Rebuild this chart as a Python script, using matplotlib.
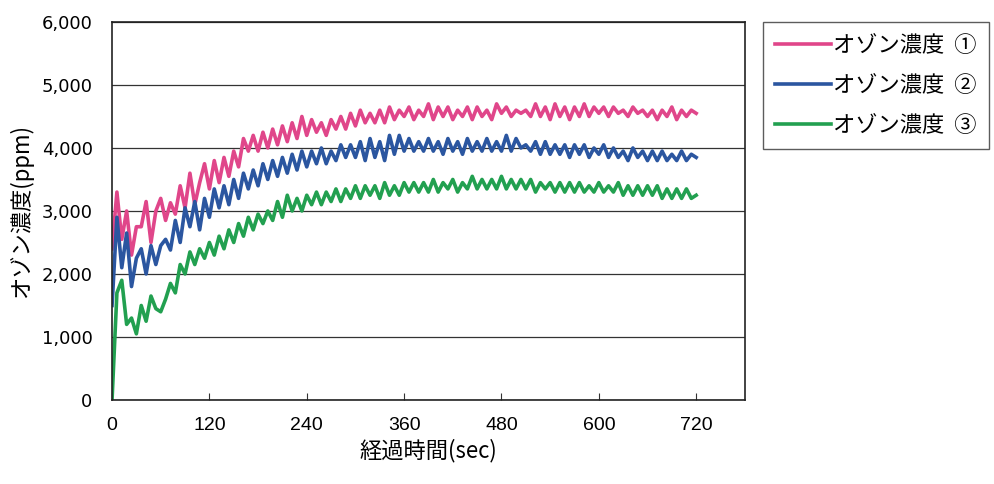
"""オゾン濃度の経時変化 (matplotlib)."""
import numpy as np
import matplotlib
matplotlib.use("Agg")
import matplotlib.pyplot as plt
from matplotlib.font_manager import FontProperties

JP = ["Noto Sans CJK JP", "DejaVu Sans"]
NUM = ["Liberation Sans Narrow", "Liberation Sans", "DejaVu Sans"]
PINK, BLUE, GREEN = "#e0468a", "#2b56a0", "#22a050"

# 経過時間 (sec), 6 秒毎
t = np.arange(0, 721, 6)

ozone_1 = [
    2400, 3300, 2550, 3000, 2300, 2750, 2750, 3150, 2500, 3000,   # 0-54
    3200, 2850, 3130, 2950, 3400, 3050, 3600, 3100, 3450, 3750,   # 60-114
    3350, 3800, 3450, 3850, 3550, 3950, 3700, 4150, 3950, 4200,   # 120-174
    3950, 4250, 4000, 4300, 4050, 4350, 4100, 4400, 4150, 4500,   # 180-234
    4200, 4450, 4250, 4400, 4200, 4450, 4300, 4500, 4300, 4550,   # 240-294
    4350, 4600, 4400, 4550, 4400, 4600, 4400, 4650, 4450, 4600,   # 300-354
    4500, 4650, 4450, 4600, 4500, 4700, 4450, 4650, 4500, 4650,   # 360-414
    4450, 4600, 4500, 4650, 4450, 4650, 4500, 4600, 4450, 4700,   # 420-474
    4550, 4650, 4500, 4600, 4550, 4600, 4500, 4700, 4500, 4650,   # 480-534
    4450, 4700, 4500, 4650, 4450, 4650, 4500, 4700, 4500, 4650,   # 540-594
    4550, 4650, 4500, 4650, 4550, 4600, 4500, 4650, 4550, 4600,   # 600-654
    4500, 4600, 4450, 4600, 4500, 4650, 4450, 4600, 4500, 4600,   # 660-714
    4550,                                                         # 720
]
ozone_2 = [
    1500, 2900, 2100, 2650, 1800, 2250, 2400, 2000, 2450, 2150,
    2450, 2550, 2380, 2850, 2500, 3050, 2750, 3150, 2700, 3200,
    2900, 3350, 3050, 3400, 3100, 3500, 3200, 3600, 3350, 3650,
    3400, 3750, 3500, 3800, 3550, 3850, 3600, 3900, 3650, 3950,
    3700, 3950, 3750, 4000, 3750, 3950, 3800, 4050, 3850, 4050,
    3850, 4100, 3800, 4150, 3850, 4100, 3800, 4200, 3900, 4200,
    3950, 4150, 3950, 4100, 3950, 4150, 3950, 4100, 3900, 4150,
    3950, 4100, 3900, 4150, 3950, 4100, 3950, 4150, 3950, 4100,
    3950, 4200, 3950, 4150, 4000, 4050, 3950, 4100, 3900, 4100,
    3900, 4050, 3900, 4050, 3850, 4050, 3900, 4050, 3850, 4000,
    3900, 4050, 3850, 4000, 3850, 3950, 3800, 4000, 3850, 3950,
    3800, 3950, 3800, 3950, 3800, 3900, 3800, 3950, 3800, 3900,
    3850,
]
ozone_3 = [
    0, 1700, 1900, 1200, 1300, 1050, 1500, 1250, 1650, 1450,
    1400, 1600, 1850, 1700, 2150, 2000, 2350, 2150, 2400, 2250,
    2500, 2300, 2600, 2400, 2700, 2500, 2800, 2600, 2900, 2700,
    2950, 2800, 3000, 2850, 3150, 2900, 3250, 3000, 3200, 3000,
    3250, 3100, 3300, 3100, 3300, 3150, 3350, 3150, 3350, 3200,
    3400, 3200, 3400, 3250, 3400, 3200, 3450, 3250, 3400, 3250,
    3450, 3300, 3450, 3300, 3450, 3300, 3500, 3300, 3450, 3350,
    3500, 3300, 3450, 3350, 3550, 3350, 3500, 3350, 3500, 3350,
    3550, 3350, 3500, 3350, 3500, 3350, 3500, 3300, 3450, 3350,
    3450, 3300, 3450, 3300, 3450, 3300, 3450, 3300, 3400, 3300,
    3450, 3300, 3400, 3300, 3450, 3250, 3400, 3250, 3400, 3250,
    3400, 3250, 3400, 3200, 3350, 3200, 3350, 3200, 3350, 3200,
    3250,
]
labels = ["オゾン濃度  ①", "オゾン濃度  ②", "オゾン濃度  ③"]
x_ticks = [0, 120, 240, 360, 480, 600, 720]
y_ticks = [0, 1000, 2000, 3000, 4000, 5000, 6000]

fig = plt.figure(figsize=(9.95, 4.84), dpi=100)
ax = fig.add_axes([0.1126, 0.1736, 0.636, 0.781])
for ys, c, lb in zip([ozone_1, ozone_2, ozone_3], [PINK, BLUE, GREEN], labels):
    ax.plot(t, ys, color=c, lw=2.6, label=lb, solid_joinstyle="round")

ax.set_xlim(0, 780); ax.set_ylim(0, 6000)
ax.set_xticks(x_ticks); ax.set_yticks(y_ticks)
ax.set_yticklabels([f"{v:,}" for v in y_ticks], family="DejaVu Sans", fontsize=13)
ax.set_xticklabels([str(v) for v in x_ticks], family=NUM, fontsize=14)
ax.tick_params(axis="x", direction="in", length=5, pad=12, color="#333")
ax.tick_params(axis="y", length=0, pad=14)
ax.grid(axis="y", color="#333", lw=0.9)
ax.set_axisbelow(True)
for s in ax.spines.values():
    s.set_color("#222"); s.set_linewidth(1.2)

ax.set_xlabel("経過時間(sec)", family=JP, fontsize=16, labelpad=4)
ax.set_ylabel("オゾン濃度(ppm)", family=JP, fontsize=16, labelpad=6)

leg = fig.legend(loc="upper left", bbox_to_anchor=(763 / 995, 1 - 22 / 484),
                 prop=FontProperties(family=JP, size=16), frameon=True, fancybox=False,
                 handlelength=2.5, handletextpad=0.1, labelspacing=0.75, borderpad=0.55,
                 borderaxespad=0)
leg.get_frame().set_edgecolor("#333"); leg.get_frame().set_linewidth(1.0)

fig.savefig("out.png", dpi=100)
